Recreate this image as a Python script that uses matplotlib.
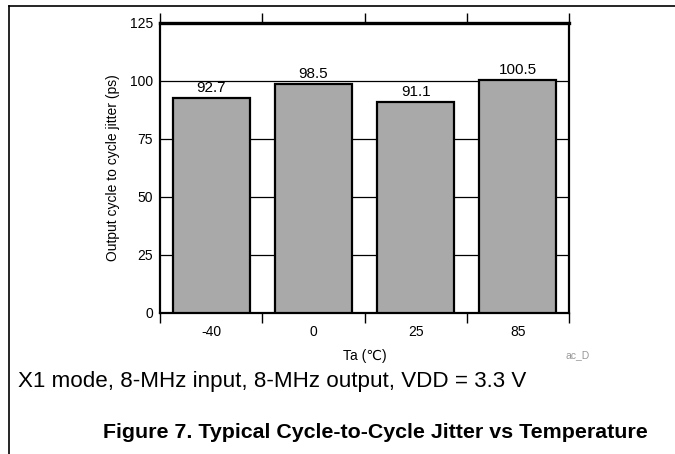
import matplotlib
matplotlib.use("Agg")
import matplotlib.pyplot as plt
from matplotlib.lines import Line2D

plt.rcParams['font.family'] = ['Liberation Sans', 'DejaVu Sans']

categories = ["-40", "0", "25", "85"]
values = [92.7, 98.5, 91.1, 100.5]
yticks = [0, 25, 50, 75, 100, 125]

fig = plt.figure(figsize=(6.75, 4.54), dpi=100)
ax = fig.add_axes([160/675, 1-313/454, (569-160)/675, (313-23)/454])

x = list(range(len(categories)))
ax.bar(x, values, width=0.755, color="#a9a9a9", edgecolor="black", linewidth=1.6, zorder=3)
for xi, v in zip(x, values):
    ax.text(xi, v + 1.3, f"{v}", ha="center", va="bottom", fontsize=11, zorder=4)

ax.set_xlim(-0.5, len(categories) - 0.5)
ax.set_ylim(0, 125)
ax.set_yticks(yticks)
ax.set_yticklabels([str(t) for t in yticks], fontsize=10)
ax.tick_params(axis="y", length=0, pad=5)
for t in yticks[1:-1]:
    ax.axhline(t, color="black", linewidth=0.9, zorder=1)

ax.set_xticks(x)
ax.set_xticklabels(categories, fontsize=10)
ax.tick_params(axis="x", which="major", length=0, pad=8.5)
bounds = [i - 0.5 for i in range(len(categories) + 1)]
ax.set_xticks(bounds, minor=True)
ax.tick_params(axis="x", which="minor", length=7, width=1.0, direction="out", top=True, bottom=True, color="black")

for s in ["left", "bottom", "right"]:
    ax.spines[s].set_linewidth(1.6)
ax.spines["top"].set_linewidth(2.4)

ax.set_ylabel("Output cycle to cycle jitter (ps)", fontsize=10, labelpad=7)
ax.set_xlabel("Ta (℃)", fontsize=10, labelpad=7)

fig.text(578/675, 1-355/454, "ac_D", fontsize=7.5, color="#999999", ha="center", va="center")
fig.text(18/675, 1-381/454, "X1 mode, 8-MHz input, 8-MHz output, VDD = 3.3 V", fontsize=16.1, ha="left", va="center")
fig.text(103/675, 1-432/454, "Figure 7. Typical Cycle-to-Cycle Jitter vs Temperature", fontsize=15.4, fontweight="bold", ha="left", va="center")

fig.add_artist(Line2D([9/675, 1], [1-6/454, 1-6/454], transform=fig.transFigure, color="black", linewidth=1.2))
fig.add_artist(Line2D([9/675, 9/675], [0, 1-6/454], transform=fig.transFigure, color="black", linewidth=1.2))

fig.savefig("out.png", dpi=100)
